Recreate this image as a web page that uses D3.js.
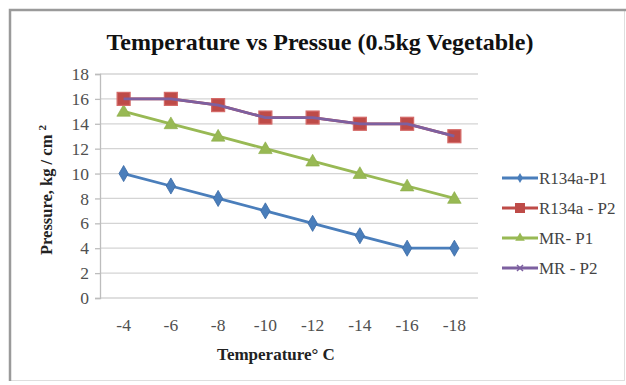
<!DOCTYPE html>
<html>
<head>
<meta charset="utf-8">
<script src="https://cdn.jsdelivr.net/npm/d3@7"></script>
<style>
  html, body { margin: 0; padding: 0; background: #fff; }
  svg { display: block; }
</style>
</head>
<body>
<svg id="chart" width="626" height="385"></svg>
<script>
// Temperature categories (°C) along the x axis
const temperatures = ["-4", "-6", "-8", "-10", "-12", "-14", "-16", "-18"];

// Pressure readings, kg/cm²
const r134aP1 = [10, 9, 8, 7, 6, 5, 4, 4];
const r134aP2 = [16, 16, 15.5, 14.5, 14.5, 14, 14, 13];
const mrP1 = [15, 14, 13, 12, 11, 10, 9, 8];
const mrP2 = [16, 16, 15.5, 14.5, 14.5, 14, 14, 13];

const yTicks = [0, 2, 4, 6, 8, 10, 12, 14, 16, 18];

const seriesList = [
  { name: "R134a-P1", values: r134aP1, color: "#4a7ebb", marker: "diamond" },
  { name: "R134a - P2", values: r134aP2, color: "#be4b48", marker: "square" },
  { name: "MR- P1", values: mrP1, color: "#98b954", marker: "triangle" },
  { name: "MR - P2", values: mrP2, color: "#7d60a0", marker: "cross" }
];

const SERIF = '"Liberation Serif"';

const svg = d3.select("#chart");

// outer frame
svg.append("rect").attr("x", 9.5).attr("y", 9.5).attr("width", 615).attr("height", 371)
  .attr("fill", "#fff").attr("stroke", "#dedede").attr("stroke-width", 1);
svg.append("path").attr("d", "M10,381 V10 H626")
  .attr("fill", "none").attr("stroke", "#9a9a9a").attr("stroke-width", 2.5);

const plot = { left: 100, right: 478, top: 74, bottom: 298 };

const x = d3.scaleBand().domain(temperatures).range([plot.left, plot.right]);
const y = d3.scaleLinear().domain([0, 18]).range([plot.bottom, plot.top]);
const cx = d => x(d) + x.bandwidth() / 2;

// horizontal gridlines
svg.append("g").selectAll("line").data(yTicks).join("line")
  .attr("x1", plot.left).attr("x2", plot.right)
  .attr("y1", d => y(d)).attr("y2", d => y(d))
  .attr("stroke", "#d4d4d4").attr("stroke-width", 1.3);

// y axis
const yAxis = svg.append("g").attr("transform", `translate(${plot.left},0)`)
  .call(d3.axisLeft(y).tickValues(yTicks).tickSize(5).tickPadding(6).tickFormat(d3.format("d")));
yAxis.attr("font-family", null).attr("font-size", null);
yAxis.select(".domain").attr("stroke", "#bdbdbd").attr("stroke-width", 1.3);
yAxis.selectAll(".tick line").attr("stroke", "#bdbdbd").attr("stroke-width", 1.3);
yAxis.selectAll(".tick text")
  .style("font-family", SERIF).style("font-size", "17.5px")
  .attr("fill", "#505050");

// x axis labels
const xAxis = svg.append("g").attr("transform", `translate(0,${plot.bottom})`)
  .call(d3.axisBottom(x).tickSize(0).tickPadding(21));
xAxis.attr("font-family", null).attr("font-size", null);
xAxis.select(".domain").remove();
xAxis.selectAll(".tick text")
  .style("font-family", SERIF).style("font-size", "17.5px")
  .attr("fill", "#505050");

// title
svg.append("text").attr("x", 320).attr("y", 50).attr("text-anchor", "middle")
  .style("font-family", SERIF).style("font-size", "24px").style("font-weight", "bold")
  .attr("fill", "#111")
  .text("Temperature vs Pressue (0.5kg Vegetable)");

// axis titles
svg.append("text").attr("x", 276).attr("y", 360).attr("text-anchor", "middle")
  .style("font-family", SERIF).style("font-size", "17px").style("font-weight", "bold")
  .attr("fill", "#222")
  .text("Temperature\u00b0 C");

const yTitle = svg.append("text")
  .attr("transform", "translate(52,190) rotate(-90)")
  .attr("text-anchor", "middle")
  .style("font-family", SERIF).style("font-size", "16.5px").style("font-weight", "bold")
  .attr("fill", "#222");
yTitle.append("tspan").text("Pressure, kg / cm ");
yTitle.append("tspan").attr("dy", -6).style("font-size", "11px").text("2");

// marker drawing
function drawMarker(g, type, color, px, py) {
  if (type === "diamond") {
    g.append("path").attr("d", d3.symbol(d3.symbolDiamond, 75)())
      .attr("transform", `translate(${px},${py})`)
      .attr("fill", color).attr("stroke", "#3a6aa5").attr("stroke-width", 0.8);
  } else if (type === "square") {
    g.append("rect").attr("x", px - 6.5).attr("y", py - 6.5).attr("width", 13).attr("height", 13)
      .attr("fill", color).attr("stroke", "#d46a68").attr("stroke-width", 1.2);
  } else if (type === "triangle") {
    g.append("path").attr("d", d3.symbol(d3.symbolTriangle, 80)())
      .attr("transform", `translate(${px},${py + 1})`)
      .attr("fill", color).attr("stroke", "#8aab45").attr("stroke-width", 0.6);
  } else if (type === "cross") {
    g.append("path").attr("d", `M${px - 3},${py - 3}L${px + 3},${py + 3}M${px - 3},${py + 3}L${px + 3},${py - 3}`)
      .attr("stroke", color).attr("stroke-width", 1.5);
  }
}

const line = d3.line().x((d, i) => cx(temperatures[i])).y(d => y(d));

// draw in an order that keeps the purple line over the red squares
const order = [0, 2, 1, 3];
order.forEach(idx => {
  const s = seriesList[idx];
  const g = svg.append("g");
  g.append("path").datum(s.values).attr("d", line)
    .attr("fill", "none").attr("stroke", s.color).attr("stroke-width", 2.8)
    .attr("stroke-linejoin", "round");
  if (s.marker !== "cross") {
    s.values.forEach((v, i) => drawMarker(g, s.marker, s.color, cx(temperatures[i]), y(v)));
  }
});

// legend
const legendRows = [178, 208, 238, 268];
seriesList.forEach((s, i) => {
  const ly = legendRows[i];
  const g = svg.append("g");
  g.append("line").attr("x1", 502).attr("x2", 538).attr("y1", ly).attr("y2", ly)
    .attr("stroke", s.color).attr("stroke-width", 2.8);
  if (s.marker === "square") {
    g.append("rect").attr("x", 515).attr("y", ly - 5).attr("width", 10).attr("height", 10).attr("fill", s.color);
  } else if (s.marker === "diamond") {
    g.append("path").attr("d", d3.symbol(d3.symbolDiamond, 30)())
      .attr("transform", `translate(520,${ly})`).attr("fill", s.color);
  } else if (s.marker === "triangle") {
    g.append("path").attr("d", d3.symbol(d3.symbolTriangle, 40)())
      .attr("transform", `translate(520,${ly})`).attr("fill", s.color);
  } else {
    drawMarker(g, "cross", s.color, 520, ly);
  }
  g.append("text").attr("x", 539).attr("y", ly + 6)
    .style("font-family", SERIF).style("font-size", "17px")
    .attr("fill", "#444")
    .text(s.name);
});
</script>
</body>
</html>
